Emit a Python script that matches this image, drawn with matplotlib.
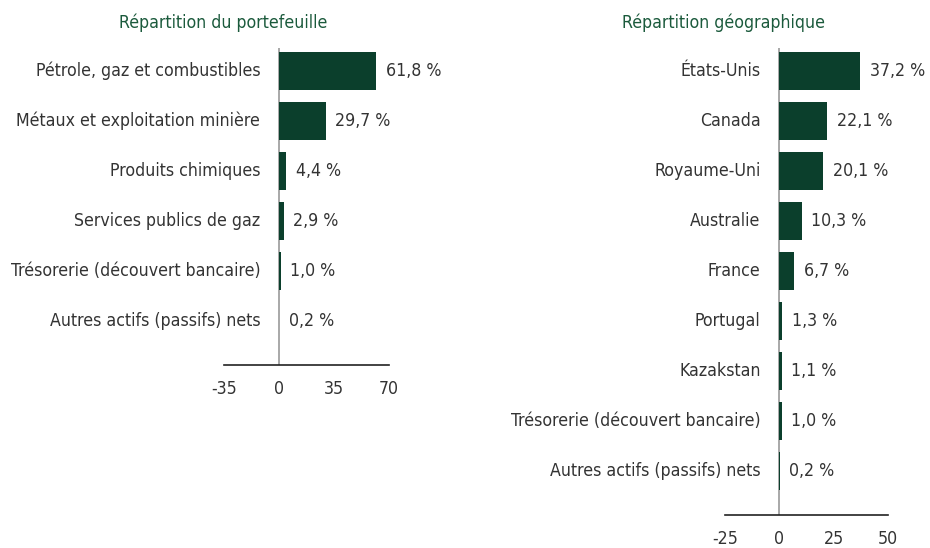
import matplotlib
matplotlib.use("Agg")
import matplotlib.pyplot as plt
from matplotlib import font_manager as fm

# portfolio breakdown
port_labels = ["Pétrole, gaz et combustibles", "Métaux et exploitation minière",
               "Produits chimiques", "Services publics de gaz",
               "Trésorerie (découvert bancaire)", "Autres actifs (passifs) nets"]
port_values = [61.8, 29.7, 4.4, 2.9, 1.0, 0.2]
port_ticks = [-35, 0, 35, 70]

# geographic breakdown
geo_labels = ["États-Unis", "Canada", "Royaume-Uni", "Australie", "France",
              "Portugal", "Kazakstan", "Trésorerie (découvert bancaire)",
              "Autres actifs (passifs) nets"]
geo_values = [37.2, 22.1, 20.1, 10.3, 6.7, 1.3, 1.1, 1.0, 0.2]
geo_ticks = [-25, 0, 25, 50]

# the original uses a narrow Arial-like face; take the narrowest one we have
fonts = fm.fontManager.ttflist
names = {f.name for f in fonts}
STRETCH = 'normal'
if 'Liberation Sans Narrow' in names:
    FAM = 'Liberation Sans Narrow'
elif any(f.name == 'DejaVu Sans' and f.stretch in ('condensed', 600 - 100) for f in fonts) \
        or 'DejaVu Sans Condensed' in names:
    FAM = 'DejaVu Sans'
    STRETCH = 'condensed'
else:
    FAM = 'Liberation Sans'
plt.rcParams['font.family'] = [FAM, 'DejaVu Sans']
plt.rcParams['font.stretch'] = STRETCH

BAR = '#0b3f2c'
TITLE = '#1b5a3c'
TXT = '#333333'

fig = plt.figure(figsize=(9.3, 5.48), dpi=100)

# size the text so the longest label is as wide as in the original (224 px)
probe = fig.text(0, 0, port_labels[0], fontsize=12)
fig.canvas.draw()
w = probe.get_window_extent().width
probe.remove()
FS = min(12 * 224 / w, 15)


def draw(ax, labels, values, ticks):
    n = len(values)
    ypos = list(range(n))
    ax.axvline(0, color='#9a9a9a', lw=1.2, zorder=1)
    ax.barh(ypos, values, height=0.76, color=BAR, zorder=2)
    for y, lab, v in zip(ypos, labels, values):
        ax.annotate(lab, (0, y), xytext=(-13.5, 0), textcoords='offset points',
                    ha='right', va='center', fontsize=FS, color=TXT)
        ax.annotate(f"{v:.1f} %".replace('.', ','), (v, y), xytext=(7, 0),
                    textcoords='offset points', ha='left', va='center',
                    fontsize=FS, color=TXT)
    ax.set_xlim(ticks[0], ticks[-1])
    ax.set_ylim(n - 1 + 0.88, -0.46)
    ax.set_xticks(ticks)
    ax.set_xticklabels([str(t) for t in ticks])
    ax.set_yticks([])
    ax.tick_params(axis='x', length=0, pad=11, labelsize=FS, labelcolor=TXT)
    for s in ['top', 'right', 'left']:
        ax.spines[s].set_visible(False)
    ax.spines['bottom'].set_color('#222222')
    ax.spines['bottom'].set_linewidth(1.2)
    ax.patch.set_alpha(0)


ax1 = fig.add_axes([224 / 930, 1 - 365 / 548, 165 / 930, 317 / 548])
ax2 = fig.add_axes([725 / 930, 1 - 515 / 548, 163 / 930, 467 / 548])
draw(ax1, port_labels, port_values, port_ticks)
draw(ax2, geo_labels, geo_values, geo_ticks)

fig.text(223 / 930, 1 - 23 / 548, "Répartition du portefeuille", ha='center',
         va='center', fontsize=FS, color=TITLE)
fig.text(724 / 930, 1 - 23 / 548, "Répartition géographique", ha='center',
         va='center', fontsize=FS, color=TITLE)

fig.savefig("out.png", dpi=100)
